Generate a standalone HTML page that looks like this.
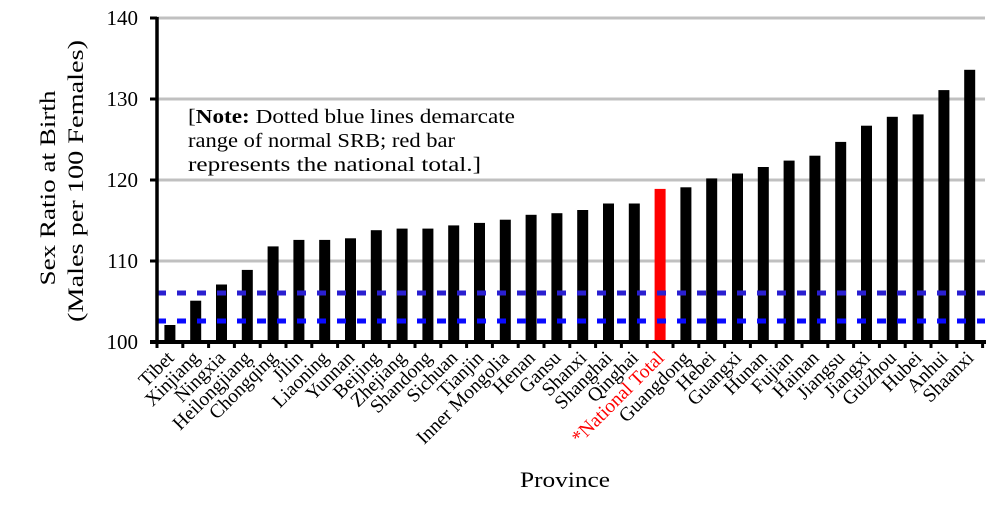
<!DOCTYPE html>
<html><head><meta charset="utf-8"><style>body{margin:0;background:#fff}svg{display:block}</style></head><body>
<svg width="999" height="511" xmlns="http://www.w3.org/2000/svg" font-family="Liberation Serif, serif">
<g stroke="#c0c0c0" stroke-width="3">
<line x1="157" x2="985" y1="261" y2="261"/><line x1="157" x2="985" y1="180" y2="180"/><line x1="157" x2="985" y1="99" y2="99"/><line x1="157" x2="985" y1="18" y2="18"/>
</g>
<g font-size="21" text-anchor="end">
<text x="138" y="349">100</text><text x="138" y="268">110</text><text x="138" y="187">120</text><text x="138" y="106">130</text><text x="138" y="25">140</text>
</g>
<g fill="#000">
<rect x="164.4" y="325.0" width="11" height="17.0"/>
<rect x="190.2" y="300.7" width="11" height="41.3"/>
<rect x="216.0" y="284.5" width="11" height="57.5"/>
<rect x="241.8" y="269.9" width="11" height="72.1"/>
<rect x="267.6" y="246.4" width="11" height="95.6"/>
<rect x="293.4" y="239.9" width="11" height="102.1"/>
<rect x="319.2" y="239.9" width="11" height="102.1"/>
<rect x="345.0" y="238.3" width="11" height="103.7"/>
<rect x="370.8" y="230.2" width="11" height="111.8"/>
<rect x="396.6" y="228.6" width="11" height="113.4"/>
<rect x="422.4" y="228.6" width="11" height="113.4"/>
<rect x="448.2" y="225.4" width="11" height="116.6"/>
<rect x="474.0" y="222.9" width="11" height="119.1"/>
<rect x="499.8" y="219.7" width="11" height="122.3"/>
<rect x="525.6" y="214.8" width="11" height="127.2"/>
<rect x="551.4" y="213.2" width="11" height="128.8"/>
<rect x="577.2" y="210.0" width="11" height="132.0"/>
<rect x="603.0" y="203.5" width="11" height="138.5"/>
<rect x="628.8" y="203.5" width="11" height="138.5"/>
<rect x="654.6" y="188.9" width="11" height="153.1" fill="#ff0000"/>
<rect x="680.4" y="187.3" width="11" height="154.7"/>
<rect x="706.2" y="178.4" width="11" height="163.6"/>
<rect x="732.0" y="173.5" width="11" height="168.5"/>
<rect x="757.8" y="167.0" width="11" height="175.0"/>
<rect x="783.6" y="160.6" width="11" height="181.4"/>
<rect x="809.4" y="155.7" width="11" height="186.3"/>
<rect x="835.2" y="141.9" width="11" height="200.1"/>
<rect x="861.0" y="125.7" width="11" height="216.3"/>
<rect x="886.8" y="116.8" width="11" height="225.2"/>
<rect x="912.6" y="114.4" width="11" height="227.6"/>
<rect x="938.4" y="90.1" width="11" height="251.9"/>
<rect x="964.2" y="69.8" width="11" height="272.2"/>
</g>
<g font-size="19.5" text-anchor="end">
<text transform="translate(174.9,359) rotate(-45)">Tibet</text>
<text transform="translate(200.7,359) rotate(-45)">Xinjiang</text>
<text transform="translate(226.5,359) rotate(-45)">Ningxia</text>
<text transform="translate(252.3,359) rotate(-45)">Heilongjiang</text>
<text transform="translate(278.1,359) rotate(-45)">Chongqing</text>
<text transform="translate(303.9,359) rotate(-45)">Jilin</text>
<text transform="translate(329.7,359) rotate(-45)">Liaoning</text>
<text transform="translate(355.5,359) rotate(-45)">Yunnan</text>
<text transform="translate(381.3,359) rotate(-45)">Beijing</text>
<text transform="translate(407.1,359) rotate(-45)">Zhejiang</text>
<text transform="translate(432.9,359) rotate(-45)">Shandong</text>
<text transform="translate(458.7,359) rotate(-45)">Sichuan</text>
<text transform="translate(484.5,359) rotate(-45)">Tianjin</text>
<text transform="translate(510.3,359) rotate(-45)">Inner Mongolia</text>
<text transform="translate(536.1,359) rotate(-45)">Henan</text>
<text transform="translate(561.9,359) rotate(-45)">Gansu</text>
<text transform="translate(587.7,359) rotate(-45)">Shanxi</text>
<text transform="translate(613.5,359) rotate(-45)">Shanghai</text>
<text transform="translate(639.3,359) rotate(-45)">Qinghai</text>
<text transform="translate(665.1,359) rotate(-45)" fill="#ff0000">*National Total</text>
<text transform="translate(690.9,359) rotate(-45)">Guangdong</text>
<text transform="translate(716.7,359) rotate(-45)">Hebei</text>
<text transform="translate(742.5,359) rotate(-45)">Guangxi</text>
<text transform="translate(768.3,359) rotate(-45)">Hunan</text>
<text transform="translate(794.1,359) rotate(-45)">Fujian</text>
<text transform="translate(819.9,359) rotate(-45)">Hainan</text>
<text transform="translate(845.7,359) rotate(-45)">Jiangsu</text>
<text transform="translate(871.5,359) rotate(-45)">Jiangxi</text>
<text transform="translate(897.3,359) rotate(-45)">Guizhou</text>
<text transform="translate(923.1,359) rotate(-45)">Hubei</text>
<text transform="translate(948.9,359) rotate(-45)">Anhui</text>
<text transform="translate(974.7,359) rotate(-45)">Shaanxi</text>
</g>
<line x1="157" x2="985" y1="293" y2="293" stroke="#2a1fd0" stroke-width="5" stroke-dasharray="9 11"/>
<line x1="157" x2="985" y1="321" y2="321" stroke="#0a0aff" stroke-width="5" stroke-dasharray="9 11"/>
<line x1="157" x2="157" y1="17" y2="344" stroke="#000" stroke-width="3.5"/>
<g stroke="#000" stroke-width="3">
<line x1="150" x2="157" y1="18" y2="18"/><line x1="150" x2="157" y1="99" y2="99"/><line x1="150" x2="157" y1="180" y2="180"/><line x1="150" x2="157" y1="261" y2="261"/>
</g>
<line x1="150" x2="986" y1="342" y2="342" stroke="#000" stroke-width="4"/>
<line x1="155.5" x2="985" y1="345" y2="345" stroke="#000" stroke-width="6" stroke-dasharray="3 22.8"/>
<text x="188" y="123" font-size="20" textLength="327" lengthAdjust="spacingAndGlyphs">[<tspan font-weight="bold">Note:</tspan> Dotted blue lines demarcate</text>
<text x="188" y="147" font-size="20" textLength="267" lengthAdjust="spacingAndGlyphs">range of normal SRB; red bar</text>
<text x="188" y="171" font-size="20" textLength="293" lengthAdjust="spacingAndGlyphs">represents the national total.]</text>
<text transform="translate(55,188) rotate(-90)" text-anchor="middle" font-size="22" textLength="195" lengthAdjust="spacingAndGlyphs">Sex Ratio at Birth</text>
<text transform="translate(83,181) rotate(-90)" text-anchor="middle" font-size="22" textLength="282" lengthAdjust="spacingAndGlyphs">(Males per 100 Females)</text>
<text x="565" y="487" text-anchor="middle" font-size="22" textLength="90" lengthAdjust="spacingAndGlyphs">Province</text>
</svg>
</body></html>
